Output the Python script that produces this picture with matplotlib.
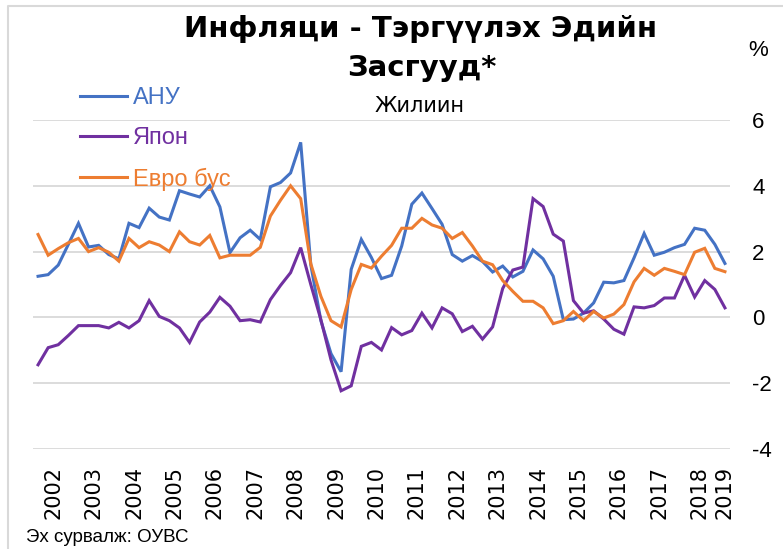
import matplotlib
matplotlib.use("Agg")
import matplotlib.pyplot as plt
import numpy as np
from matplotlib.lines import Line2D

plt.rcParams['font.family'] = ['Liberation Sans', 'DejaVu Sans']
plt.rcParams['axes.unicode_minus'] = False

# Quarterly categories 2002Q1 .. 2019Q1
quarter_years = [y for y in range(2002, 2019) for _ in range(4)] + [2019]
year_labels = ['2002', '2003', '2004', '2005', '2006', '2007', '2008', '2009', '2010',
               '2011', '2012', '2013', '2014', '2015', '2016', '2017', '2018', '2019']

usa = [1.25, 1.30, 1.59, 2.22, 2.86, 2.14, 2.19, 1.91, 1.78, 2.86, 2.73, 3.32, 3.05, 2.96,
       3.85, 3.75, 3.66, 4.00, 3.36, 1.97, 2.42, 2.65, 2.37,
       3.97, 4.10, 4.39, 5.32, 1.60, -0.10, -1.10, -1.65,
       1.46, 2.37, 1.82, 1.18, 1.28, 2.17, 3.44, 3.78, 3.31, 2.83,
       1.91, 1.71, 1.88, 1.70, 1.38, 1.56, 1.23, 1.40, 2.05, 1.78, 1.25, -0.07, -0.05, 0.13,
       0.44, 1.07, 1.05, 1.12, 1.81, 2.55, 1.89, 1.98, 2.12, 2.22, 2.71, 2.65, 2.22, 1.64]

japan = [-1.44, -0.92, -0.83, -0.55, -0.25, -0.25, -0.25, -0.32, -0.15, -0.32, -0.10, 0.51,
         0.03, -0.10, -0.32, -0.76, -0.14, 0.16, 0.61, 0.34, -0.10, -0.07, -0.14,
         0.54, 0.97, 1.36, 2.12, 1.00, -0.07, -1.29, -2.23, -2.08, -0.88, -0.76, -0.99,
         -0.31, -0.53, -0.40, 0.13, -0.32, 0.29, 0.11, -0.43, -0.27, -0.66, -0.29,
         0.88, 1.44, 1.53, 3.61, 3.37, 2.53, 2.32, 0.51, 0.13, 0.20, -0.05, -0.36, -0.51,
         0.32, 0.29, 0.36, 0.59, 0.59, 1.28, 0.62, 1.12, 0.85, 0.29]

euro = [2.52, 1.89, 2.09, 2.27, 2.40, 2.00, 2.12, 1.98, 1.71, 2.40, 2.12, 2.30, 2.20, 2.00,
        2.60, 2.30, 2.20, 2.49, 1.81, 1.89, 1.89, 1.89, 2.13,
        3.08, 3.56, 4.00, 3.61, 1.63, 0.64, -0.10, -0.29, 0.85, 1.61, 1.50, 1.86, 2.19,
        2.71, 2.71, 3.01, 2.81, 2.71, 2.40, 2.58, 2.17, 1.71, 1.60, 1.12, 0.79, 0.49, 0.49,
        0.29, -0.19, -0.10, 0.18, -0.10, 0.18, -0.02, 0.10, 0.39, 1.08, 1.49, 1.28, 1.49,
        1.40, 1.30, 1.98, 2.10, 1.49, 1.39]

series_names = ['АНУ', 'Япон', 'Евро бус']
colors = ['#4472C4', '#7030A0', '#ED7D31']

W, H = 783, 549
fig = plt.figure(figsize=(W / 100, H / 100), dpi=100)
ax = fig.add_axes([33 / W, 1 - 449 / H, 697 / W, 329 / H])

x = np.arange(len(usa))
for vals, name, c in zip([usa, japan, euro], series_names, colors):
    ax.plot(x, vals, color=c, lw=2.2, label=name, solid_joinstyle='miter')

ax.set_xlim(-0.5, len(x) - 0.5)
ax.set_ylim(-4, 6)
ax.set_yticks([-4, -2, 0, 2, 4, 6])
ax.yaxis.tick_right()
ax.tick_params(axis='y', length=0, pad=16, labelsize=16)
ax.grid(axis='y', color='#D9D9D9', lw=1.3)
ax.set_axisbelow(True)
for s in ax.spines.values():
    s.set_visible(False)

qy = np.array(quarter_years)
year_pos = [x[qy == int(y)].mean() for y in year_labels]
ax.set_xticks(year_pos)
ax.set_xticklabels(year_labels, rotation=90, fontsize=15, family='DejaVu Sans')
ax.tick_params(axis='x', length=0, pad=12)

ax.legend(loc='upper left', bbox_to_anchor=(80 / W, 1 - 87 / H), bbox_transform=fig.transFigure,
          frameon=False, fontsize=17, handlelength=2.0, handletextpad=0.25,
          labelspacing=0.77, borderpad=0, borderaxespad=0, labelcolor='linecolor')

fig.text(421 / W, 1 - 37 / H, 'Инфляци - Тэргүүлэх Эдийн', ha='center', va='baseline',
         fontsize=21, fontweight='bold', family='DejaVu Sans')
fig.text(422 / W, 1 - 76 / H, 'Засгууд*', ha='center', va='baseline',
         fontsize=21, fontweight='bold', family='DejaVu Sans')
fig.text(420 / W, 1 - 112 / H, 'Жилиин', ha='center', va='baseline', fontsize=15,
         family='DejaVu Sans')
fig.text(758 / W, 1 - 50 / H, '%', ha='center', va='center', fontsize=16)
fig.text(26 / W, 1 - 542 / H, 'Эх сурвалж: ОУВС', ha='left', va='baseline', fontsize=13.5)

fig.add_artist(Line2D([8 / W, 8 / W, 1], [0, 1 - 6 / H, 1 - 6 / H], transform=fig.transFigure,
                      color='#D9D9D9', lw=1.5))

fig.savefig('out.png', dpi=100)
